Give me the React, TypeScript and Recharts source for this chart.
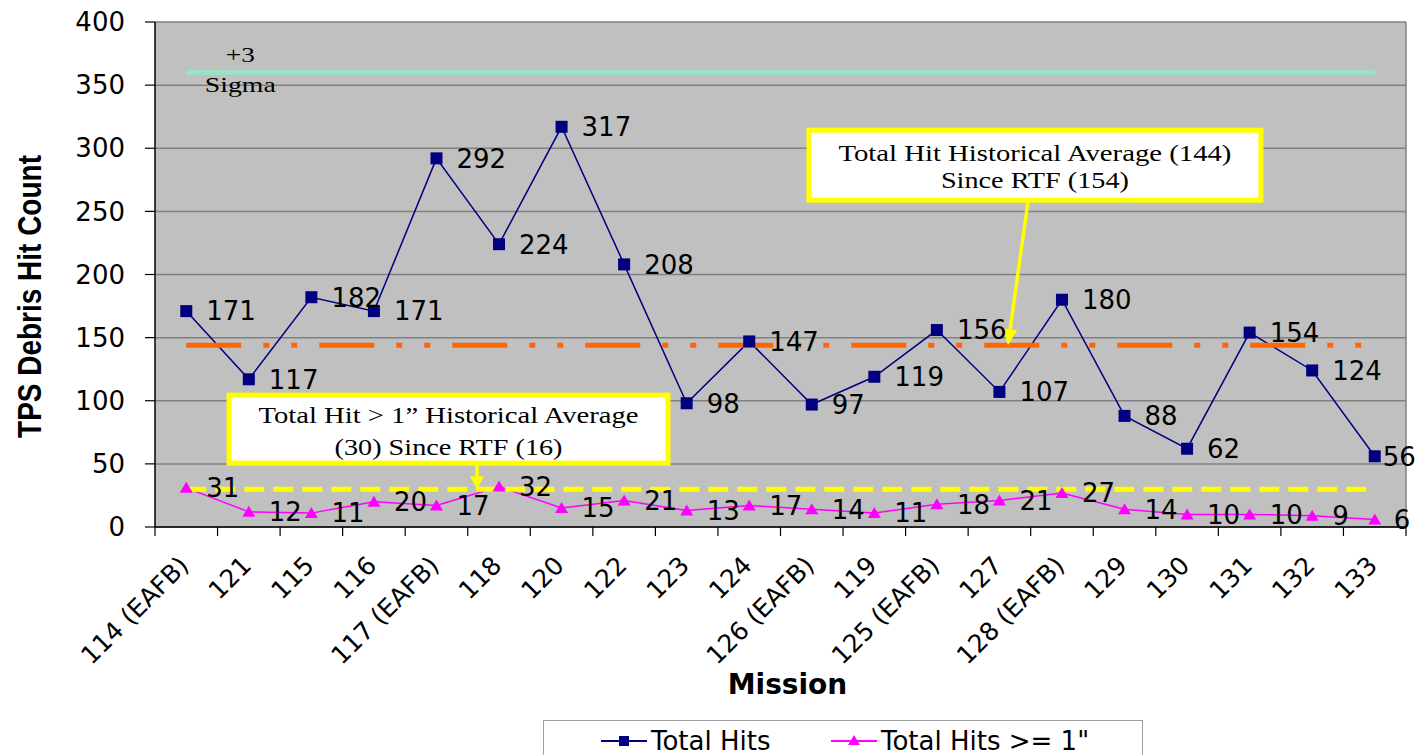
import React from 'react';
import { LineChart, Line, XAxis, YAxis, CartesianGrid, ReferenceLine, ReferenceDot, LabelList } from 'recharts';

const missions = ['114 (EAFB)', '121', '115', '116', '117 (EAFB)', '118', '120', '122', '123', '124', '126 (EAFB)', '119', '125 (EAFB)', '127', '128 (EAFB)', '129', '130', '131', '132', '133'];
const totalHits = [171, 117, 182, 171, 292, 224, 317, 208, 98, 147, 97, 119, 156, 107, 180, 88, 62, 154, 124, 56];
const hitsOver1 = [31, 12, 11, 20, 17, 32, 15, 21, 13, 17, 14, 11, 18, 21, 27, 14, 10, 10, 9, 6];
const yTicks = [0, 50, 100, 150, 200, 250, 300, 350, 400];
const sigmaLevel = 360;
const totalAvg = 144;
const over1Avg = 30;

const data = missions.map((m, i) => ({ mission: m, total: totalHits[i], over1: hitsOver1[i] }));

const W = 1416;
const H = 747;
const MARGIN = { top: 14, right: 18, left: 0, bottom: 28 };
const YAXIS_W = 147;
const XAXIS_H = 200;
const PLOT_W = W - MARGIN.left - MARGIN.right - YAXIS_W;
const STEP = PLOT_W / missions.length;
const HALF = STEP / 2;

const SANS = 'DejaVu Sans';
const SERIF = 'Liberation Serif';

const SquareDot = (p: any) => {
  const { cx, cy } = p;
  if (cx == null || cy == null) return null;
  return <rect x={cx - 6} y={cy - 6} width={12} height={12} fill="#000080" />;
};

const TriangleDot = (p: any) => {
  const { cx, cy } = p;
  if (cx == null || cy == null) return null;
  return <polygon points={`${cx},${cy - 6} ${cx + 6.5},${cy + 5} ${cx - 6.5},${cy + 5}`} fill="#ff00ff" />;
};

const makeLabel = (lastOffset: number) => (props: any) => {
  const vb = props.viewBox || {};
  const x = vb.x ?? props.x;
  const y = vb.y ?? props.y;
  const idx = props.index;
  const off = idx === missions.length - 1 ? lastOffset : 20;
  return (
    <text x={x + off} y={y} dy="0.36em" fontFamily={SANS} fontSize={26} fill="#000">
      {props.value}
    </text>
  );
};

const XTick = (props: any) => {
  const { x, y, payload } = props;
  const idx = missions.indexOf(payload.value);
  const ax = x + 4;
  const ay = y + 40;
  return (
    <g>
      <line x1={x - HALF} y1={y} x2={x - HALF} y2={y + 9} stroke="#000" strokeWidth={1.2} />
      {idx === missions.length - 1 && (
        <line x1={x + HALF} y1={y} x2={x + HALF} y2={y + 9} stroke="#000" strokeWidth={1.2} />
      )}
      <text x={ax} y={ay} transform={`rotate(-45 ${ax} ${ay})`} textAnchor="end" fontFamily={SANS} fontSize={25} fill="#000">
        {payload.value}
      </text>
    </g>
  );
};

const YTitle = (props: any) => {
  const vb = props.viewBox;
  const x = vb.x + 20.5;
  const y = vb.y + vb.height / 2 + 22;
  return (
    <text
      x={0}
      y={0}
      transform={`translate(${x} ${y}) scale(1.2 1) rotate(-90)`}
      textAnchor="middle"
      dy="0.36em"
      fontFamily="Liberation Sans"
      fontWeight="bold"
      fontSize={28}
      fill="#000"
    >
      TPS Debris Hit Count
    </text>
  );
};

const XTitle = (props: any) => {
  const vb = props.viewBox;
  return (
    <text x={vb.x + vb.width / 2 + 7} y={vb.y + 167} textAnchor="middle" fontFamily={SANS} fontWeight="bold" fontSize={28} fill="#000">
      Mission
    </text>
  );
};

const SigmaLabel = (props: any) => {
  const vb = props.viewBox;
  const cx = vb.x + 54;
  return (
    <g>
      <text x={cx} y={vb.y - 10.5} textAnchor="middle" fontFamily={SERIF} fontSize={21} fill="#000" textLength={29} lengthAdjust="spacingAndGlyphs">+3</text>
      <text x={cx} y={vb.y + 19.5} textAnchor="middle" fontFamily={SERIF} fontSize={21} fill="#000" textLength={71} lengthAdjust="spacingAndGlyphs">Sigma</text>
    </g>
  );
};

const arrowHead = (sx: number, sy: number, tx: number, ty: number, len: number, hw: number) => {
  const dx = tx - sx;
  const dy = ty - sy;
  const L = Math.sqrt(dx * dx + dy * dy);
  const ux = dx / L;
  const uy = dy / L;
  const bx = tx - ux * len;
  const by = ty - uy * len;
  const px = -uy;
  const py = ux;
  return {
    points: `${tx},${ty} ${bx + px * hw},${by + py * hw} ${bx - px * hw},${by - py * hw}`,
    bx,
    by,
  };
};

const TotalCallout = (props: any) => {
  const { cx, cy } = props;
  if (cx == null || cy == null) return null;
  const tx = cx + 8.5;
  const sx = tx + 20;
  const sy = cy - 143;
  const head = arrowHead(sx, sy, tx, cy, 16, 7);
  return (
    <g>
      <rect x={tx - 199} y={cy - 215} width={452} height={70} fill="#fff" stroke="#ffff00" strokeWidth={5} />
      <text x={tx + 27} y={cy - 184} textAnchor="middle" fontFamily={SERIF} fontSize={23} fill="#000" textLength={393} lengthAdjust="spacingAndGlyphs">
        Total Hit Historical Average (144)
      </text>
      <text x={tx + 27} y={cy - 157} textAnchor="middle" fontFamily={SERIF} fontSize={23} fill="#000" textLength={188} lengthAdjust="spacingAndGlyphs">
        Since RTF (154)
      </text>
      <line x1={sx} y1={sy} x2={head.bx} y2={head.by} stroke="#ffff00" strokeWidth={3.5} />
      <polygon points={head.points} fill="#ffff00" />
    </g>
  );
};

const Over1Callout = (props: any) => {
  const { cx, cy } = props;
  if (cx == null || cy == null) return null;
  const tx = cx - 22;
  const sx = tx;
  const sy = cy - 26;
  const head = arrowHead(sx, sy, tx, cy, 13, 7);
  return (
    <g>
      <rect x={tx - 248} y={cy - 94} width={439} height={68} fill="#fff" stroke="#ffff00" strokeWidth={5} />
      <text x={tx - 28.5} y={cy - 66} textAnchor="middle" fontFamily={SERIF} fontSize={23} fill="#000" textLength={380} lengthAdjust="spacingAndGlyphs">
        Total Hit &gt; 1” Historical Average
      </text>
      <text x={tx - 28.5} y={cy - 34} textAnchor="middle" fontFamily={SERIF} fontSize={23} fill="#000" textLength={228} lengthAdjust="spacingAndGlyphs">
        (30) Since RTF (16)
      </text>
      <line x1={sx} y1={sy} x2={head.bx} y2={head.by} stroke="#ffff00" strokeWidth={3.5} />
      <polygon points={head.points} fill="#ffff00" />
    </g>
  );
};

const LegendIcon = ({ color, kind }: { color: string; kind: 'square' | 'triangle' }) => (
  <svg width={46} height={20} style={{ display: 'block' }}>
    <line x1={0} y1={10} x2={46} y2={10} stroke={color} strokeWidth={2} />
    {kind === 'square' ? (
      <rect x={18} y={5} width={10} height={10} fill={color} />
    ) : (
      <polygon points="23,4 29,14 17,14" fill={color} />
    )}
  </svg>
);

export default function App() {
  const first = missions[0];
  const last = missions[missions.length - 1];
  return (
    <div style={{ position: 'relative', width: W, height: H }}>
      <LineChart width={W} height={H} data={data} margin={MARGIN} style={{ fontFamily: SANS }}>
        <CartesianGrid
          fill="#c0c0c0"
          stroke="#808080"
          strokeWidth={1.5}
          vertical={true}
          verticalCoordinatesGenerator={(p: any) => [p.offset.left + p.offset.width]}
        />
        <XAxis
          dataKey="mission"
          type="category"
          interval={0}
          padding={{ left: HALF, right: HALF }}
          height={XAXIS_H}
          tickSize={0}
          tickMargin={0}
          tickLine={false}
          axisLine={{ stroke: '#000', strokeWidth: 1.5 }}
          tick={<XTick />}
          label={<XTitle />}
        />
        <YAxis
          type="number"
          domain={[0, 400]}
          ticks={yTicks}
          interval={0}
          width={YAXIS_W}
          tickSize={10}
          tickMargin={20}
          axisLine={{ stroke: '#000', strokeWidth: 1.5 }}
          tickLine={{ stroke: '#000', strokeWidth: 1.2 }}
          tick={{ fill: '#000', fontSize: 26, fontFamily: SANS }}
          label={<YTitle />}
        />
        <Line
          dataKey="over1"
          stroke="#ff00ff"
          strokeWidth={1.5}
          dot={<TriangleDot />}
          activeDot={false}
          isAnimationActive={false}
        >
          <LabelList dataKey="over1" content={makeLabel(19)} />
        </Line>
        <Line
          dataKey="total"
          stroke="#000080"
          strokeWidth={1.5}
          dot={<SquareDot />}
          activeDot={false}
          isAnimationActive={false}
        >
          <LabelList dataKey="total" content={makeLabel(8)} />
        </Line>
        <ReferenceLine
          segment={[{ x: first, y: sigmaLevel }, { x: last, y: sigmaLevel }]}
          stroke="#9fdfc5"
          strokeWidth={5}
          label={<SigmaLabel />}
        />
        <ReferenceLine
          segment={[{ x: first, y: totalAvg }, { x: last, y: totalAvg }]}
          stroke="#ff6600"
          strokeWidth={5}
          strokeDasharray="55 22 6 22 6 22"
        />
        <ReferenceLine
          segment={[{ x: first, y: over1Avg }, { x: last, y: over1Avg }]}
          stroke="#ffff00"
          strokeWidth={5}
          strokeDasharray="20 9"
        />
        <ReferenceDot x={missions[13]} y={totalAvg} r={0} shape={<TotalCallout />} />
        <ReferenceDot x={missions[5]} y={over1Avg} r={0} shape={<Over1Callout />} />
      </LineChart>
      <div
        style={{
          position: 'absolute',
          left: 535,
          top: 712,
          width: 600,
          height: 50,
          border: '1.5px solid #a0a0a0',
          background: '#fff',
          boxSizing: 'border-box',
          fontFamily: SANS,
          fontSize: 26,
          color: '#000',
        }}
      >
        <div style={{ position: 'absolute', left: 57, top: 10, display: 'flex', alignItems: 'center' }}>
          <LegendIcon color="#000080" kind="square" />
          <span style={{ marginLeft: 4, lineHeight: '20px' }}>Total Hits</span>
        </div>
        <div style={{ position: 'absolute', left: 287, top: 10, display: 'flex', alignItems: 'center' }}>
          <LegendIcon color="#ff00ff" kind="triangle" />
          <span style={{ marginLeft: 4, lineHeight: '20px' }}>Total Hits &gt;= 1"</span>
        </div>
      </div>
    </div>
  );
}
